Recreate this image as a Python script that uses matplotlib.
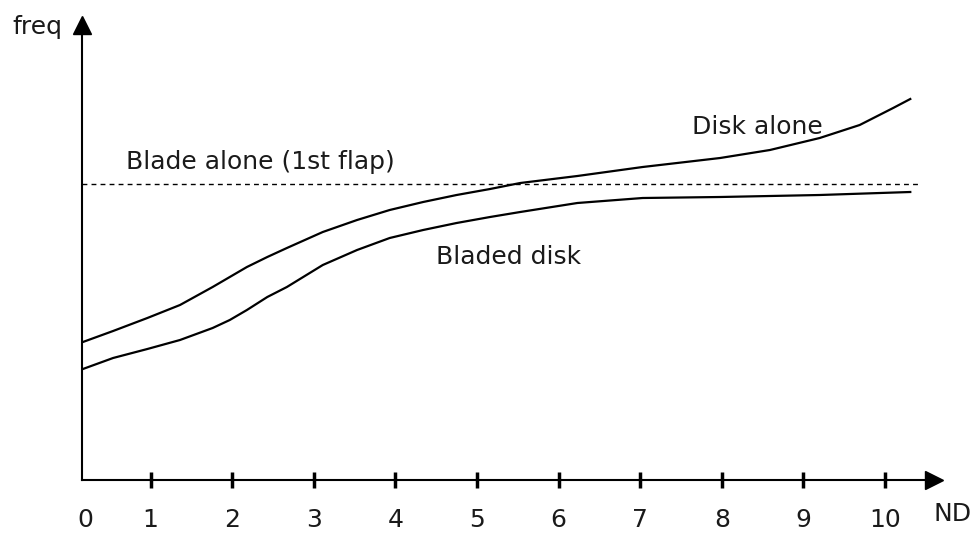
import matplotlib
matplotlib.use("Agg")
import matplotlib.pyplot as plt

# nodal diameters (x) and frequency in arbitrary units (y)
disk_x = [0.17, 0.54, 0.96, 1.36, 1.76, 1.97, 2.18, 2.43, 2.67, 3.11, 3.53, 3.93, 4.34,
          4.75, 5.16, 5.53, 6.23, 7.03, 7.98, 8.59, 9.20, 9.69, 10.10, 10.31]
disk_y = [138, 149, 162, 175, 193, 203, 213, 223, 232, 248, 260, 270, 278,
          285, 291, 297, 304, 313, 322, 330, 342, 355, 372, 381]

bladed_x = [0.17, 0.54, 0.96, 1.36, 1.76, 1.97, 2.18, 2.43, 2.67, 3.11, 3.53, 3.93, 4.34,
            4.75, 5.16, 5.53, 6.23, 7.03, 7.98, 9.20, 10.31]
bladed_y = [111, 122, 131, 140, 152, 160, 170, 183, 193, 215, 230, 242, 250,
            257, 263, 268, 277, 282, 283, 285, 288]

blade_alone = 296
nd_ticks = [1, 2, 3, 4, 5, 6, 7, 8, 9, 10]

fig = plt.figure(figsize=(9.78, 5.39), dpi=100)
ax = fig.add_axes([0, 0, 1, 1])
ax.set_xlim(-0.846, 11.140)
ax.set_ylim(-59, 480)

# axes through the origin, with arrow heads
ax.spines["top"].set_visible(False)
ax.spines["right"].set_visible(False)
ax.spines["bottom"].set_position(("data", 0))
ax.spines["left"].set_position(("data", 0.16))
ax.spines["bottom"].set_bounds(0.16, 10.6)
ax.spines["left"].set_bounds(0, 455)
ax.spines["bottom"].set_linewidth(1.5)
ax.spines["left"].set_linewidth(1.5)
ax.plot(10.60, 0, ">", color="black", markersize=13, clip_on=False)
ax.plot(0.16, 455, "^", color="black", markersize=13, clip_on=False)

ax.set_xticks([0.2] + nd_ticks)
ax.set_xticklabels(["0"] + [str(t) for t in nd_ticks], fontsize=18, color="#1a1a1a")
ax.tick_params(axis="x", direction="inout", length=12, width=2.5, pad=14)
ax.xaxis.get_major_ticks()[0].tick1line.set_visible(False)
ax.set_yticks([])

ax.plot([0.16, 10.43], [blade_alone, blade_alone], color="black", lw=1.0, dashes=(3.5, 3))
ax.plot(disk_x, disk_y, color="black", lw=1.6, solid_joinstyle="round")
ax.plot(bladed_x, bladed_y, color="black", lw=1.6, solid_joinstyle="round")

ax.text(2.34, 318, "Blade alone (1st flap)", fontsize=18, ha="center", va="center", color="#1a1a1a")
ax.text(8.43, 353, "Disk alone", fontsize=18, ha="center", va="center", color="#1a1a1a")
ax.text(5.39, 223, "Bladed disk", fontsize=18, ha="center", va="center", color="#1a1a1a")
ax.text(-0.39, 453, "freq", fontsize=18, ha="center", va="center", color="#1a1a1a")
ax.text(10.83, -34, "ND", fontsize=18, ha="center", va="center", color="#1a1a1a")

fig.savefig("out.png", dpi=100)
